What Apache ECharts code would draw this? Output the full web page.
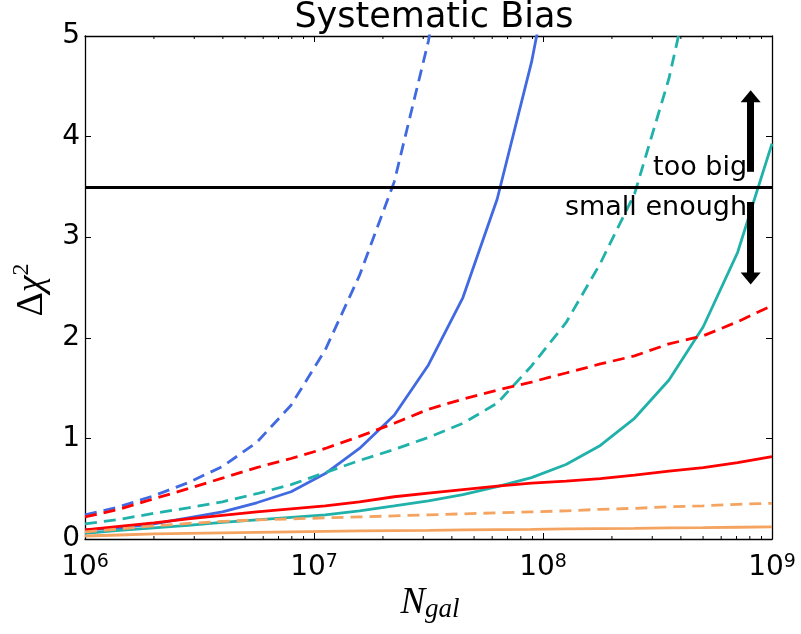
<!DOCTYPE html>
<html><head><meta charset="utf-8">
<script src="https://cdn.jsdelivr.net/npm/echarts@6/dist/echarts.min.js"></script>
<style>html,body{margin:0;padding:0;background:#fff}#c{width:801px;height:634px}</style>
</head><body><div id="c"></div>
<script>
// N_gal sample points (log-spaced)
const Ngal = [1.0e6, 1.41e6, 2.0e6, 2.82e6, 3.98e6, 5.62e6, 7.94e6, 1.12e7, 1.58e7, 2.24e7, 3.16e7,
              4.47e7, 6.31e7, 8.91e7, 1.26e8, 1.78e8, 2.51e8, 3.55e8, 5.01e8, 7.08e8, 1.0e9];
const blueDashed   = [0.24, 0.32, 0.43, 0.56, 0.72, 0.96, 1.33, 1.88, 2.62, 3.55, 4.95, 7.0, null, null, null, null, null, null, null, null, null];
const blueSolid    = [0.09, 0.11, 0.15, 0.21, 0.27, 0.36, 0.47, 0.65, 0.90, 1.23, 1.73, 2.40, 3.38, 4.74, 6.5, null, null, null, null, null, null];
const tealDashed   = [0.15, 0.195, 0.255, 0.31, 0.37, 0.45, 0.54, 0.66, 0.78, 0.89, 1.01, 1.15, 1.35, 1.72, 2.15, 2.74, 3.43, 4.58, 6.1, null, null];
const tealSolid    = [0.055, 0.085, 0.11, 0.135, 0.165, 0.19, 0.215, 0.24, 0.28, 0.33, 0.38, 0.44, 0.52, 0.61, 0.74, 0.93, 1.20, 1.58, 2.11, 2.85, 3.93];
const redDashed    = [0.22, 0.295, 0.40, 0.50, 0.605, 0.71, 0.80, 0.90, 1.02, 1.15, 1.29, 1.39, 1.48, 1.56, 1.65, 1.74, 1.82, 1.94, 2.02, 2.16, 2.32];
const redSolid     = [0.09, 0.125, 0.16, 0.20, 0.235, 0.27, 0.30, 0.33, 0.37, 0.42, 0.455, 0.49, 0.525, 0.555, 0.575, 0.60, 0.635, 0.675, 0.71, 0.76, 0.82];
const orangeDashed = [0.07, 0.10, 0.13, 0.155, 0.175, 0.19, 0.20, 0.21, 0.22, 0.23, 0.24, 0.25, 0.26, 0.27, 0.28, 0.295, 0.305, 0.32, 0.33, 0.345, 0.355];
const orangeSolid  = [0.03, 0.04, 0.05, 0.055, 0.06, 0.065, 0.07, 0.075, 0.08, 0.083, 0.086, 0.09, 0.093, 0.096, 0.10, 0.103, 0.106, 0.11, 0.113, 0.117, 0.12];
const minorTicks = [2e6,3e6,4e6,5e6,6e6,7e6,8e6,9e6, 2e7,3e7,4e7,5e7,6e7,7e7,8e7,9e7, 2e8,3e8,4e8,5e8,6e8,7e8,8e8,9e8];
const threshold = 3.5;
const titleText = 'Systematic Bias';
const labelTooBig = 'too big';
const labelSmall = 'small enough';

const BLUE = '#4169E1', TEAL = '#20B2AA', RED = '#FF0000', ORANGE = '#F4A460';
const DASH = [12, 7];
function pairs(vals){ return Ngal.map((x,i)=>[x, vals[i]]); }
function lineSeries(name, vals, color, dashed){
  return { name, type:'line', data: pairs(vals), symbol:'none', clip:true, silent:true,
    lineStyle:{ color, width:2.8, type: dashed ? DASH : 'solid', cap:'butt' }, z:3 };
}
const chart = echarts.init(document.getElementById('c'), null, {renderer:'canvas'});
const axisCommon = { axisLine:{show:true, onZero:false, lineStyle:{color:'#000', width:1.3}},
  splitLine:{show:false} };
const option = {
  animation:false,
  backgroundColor:'#fff',
  title:{ text:titleText, left:429, textAlign:'center', top:-5, textStyle:{fontFamily:'DejaVu Sans', fontSize:35, fontWeight:'normal', color:'#000'}},
  grid:{ left:85, right:29, top:36, bottom:95 },
  xAxis:[
    Object.assign({ type:'log', logBase:10, min:1e6, max:1e9, position:'bottom',
      axisTick:{inside:true, length:6, lineStyle:{color:'#000', width:1}},
      axisLabel:{ margin:14, color:'#000', formatter:v=>'{b|10}{s|'+Math.round(Math.log10(v))+'}',
        rich:{ b:{fontFamily:'DejaVu Sans', fontSize:28, color:'#000', lineHeight:30},
               s:{fontFamily:'DejaVu Sans', fontSize:19, color:'#000', verticalAlign:'top', lineHeight:30} } } }, axisCommon),
    Object.assign({ type:'log', logBase:10, min:1e6, max:1e9, position:'top',
      axisTick:{inside:true, length:6, lineStyle:{color:'#000', width:1}}, axisLabel:{show:false} }, axisCommon)
  ],
  yAxis:[
    Object.assign({ type:'value', min:0, max:5, interval:1, position:'left',
      axisTick:{inside:true, length:6, lineStyle:{color:'#000', width:1}},
      axisLabel:{ margin:5, color:'#000', fontFamily:'DejaVu Sans', fontSize:28 } }, axisCommon),
    Object.assign({ type:'value', min:0, max:5, interval:1, position:'right',
      axisTick:{inside:true, length:6, lineStyle:{color:'#000', width:1}}, axisLabel:{show:false} }, axisCommon)
  ],
  series:[
    lineSeries('blueDashed', blueDashed, BLUE, true),
    lineSeries('blueSolid', blueSolid, BLUE, false),
    lineSeries('tealDashed', tealDashed, TEAL, true),
    lineSeries('tealSolid', tealSolid, TEAL, false),
    lineSeries('redDashed', redDashed, RED, true),
    lineSeries('redSolid', redSolid, RED, false),
    lineSeries('orangeDashed', orangeDashed, ORANGE, true),
    Object.assign(lineSeries('orangeSolid', orangeSolid, ORANGE, false), {
      markLine:{ silent:true, animation:false, label:{show:false}, emphasis:{disabled:true},
        data:[
          [{coord:[1e6, threshold], symbol:'none'}, {coord:[1e9, threshold], symbol:'none', lineStyle:{color:'#000', width:3, type:'solid'}}],
          [{coord:[8.07e8, 3.65], symbol:'none'}, {coord:[8.07e8, 4.40], symbol:'triangle', symbolSize:[20,12], lineStyle:{color:'#000', width:7, type:'solid'}}],
          [{coord:[8.07e8, 3.35], symbol:'none'}, {coord:[8.07e8, 2.59], symbol:'triangle', symbolSize:[20,12], lineStyle:{color:'#000', width:7, type:'solid'}}]
        ],
        lineStyle:{color:'#000', type:'solid'}, itemStyle:{color:'#000'} }
    }),
    { type:'custom', silent:true, z:4, data: minorTicks.map(v=>[v,0]), encode:{x:0, y:1}, clip:false,
      renderItem:(params, api)=>{
        const pb = api.coord([api.value(0), 0]);
        const pt = api.coord([api.value(0), 5]);
        return { type:'group', children:[
          {type:'line', shape:{x1:pb[0], y1:pb[1], x2:pb[0], y2:pb[1]-3}, style:{stroke:'#000', lineWidth:1}},
          {type:'line', shape:{x1:pt[0], y1:pt[1], x2:pt[0], y2:pt[1]+3}, style:{stroke:'#000', lineWidth:1}}
        ]};
      } }
  ]
};
chart.setOption(option);
const pBig = chart.convertToPixel({gridIndex:0}, [7.78e8, 3.6]);
const pSmall = chart.convertToPixel({gridIndex:0}, [7.78e8, 3.2]);
chart.setOption({ graphic:[
  { type:'text', x:pBig[0], y:pBig[1]-9, style:{ text:labelTooBig, fontFamily:'DejaVu Sans', fontSize:27, fill:'#000', align:'right', verticalAlign:'middle'}, z:10 },
  { type:'text', x:pSmall[0], y:pSmall[1]-9, style:{ text:labelSmall, fontFamily:'DejaVu Sans', fontSize:27, fill:'#000', align:'right', verticalAlign:'middle'}, z:10 },
  { type:'text', x:430, y:603, style:{ text:'{n|N}{g|gal}', align:'center', verticalAlign:'middle',
      rich:{ n:{fontFamily:'Liberation Serif', fontStyle:'italic', fontSize:37, fill:'#000', lineHeight:40},
             g:{fontFamily:'Liberation Serif', fontStyle:'italic', fontSize:27, fill:'#000', verticalAlign:'bottom', lineHeight:40, padding:[12,0,0,0]} } } },
  { type:'text', x:32, y:290, rotation:Math.PI/2, style:{ text:'{d|Δ}{c|χ}{s|2}', align:'center', verticalAlign:'middle',
      rich:{ d:{fontFamily:'Liberation Serif', fontSize:38, fill:'#000', lineHeight:44},
             c:{fontFamily:'Liberation Serif', fontStyle:'italic', fontSize:38, fill:'#000', lineHeight:44},
             s:{fontFamily:'Liberation Serif', fontSize:24, fill:'#000', verticalAlign:'top', lineHeight:44} } } }
]});
</script>
</body></html>
